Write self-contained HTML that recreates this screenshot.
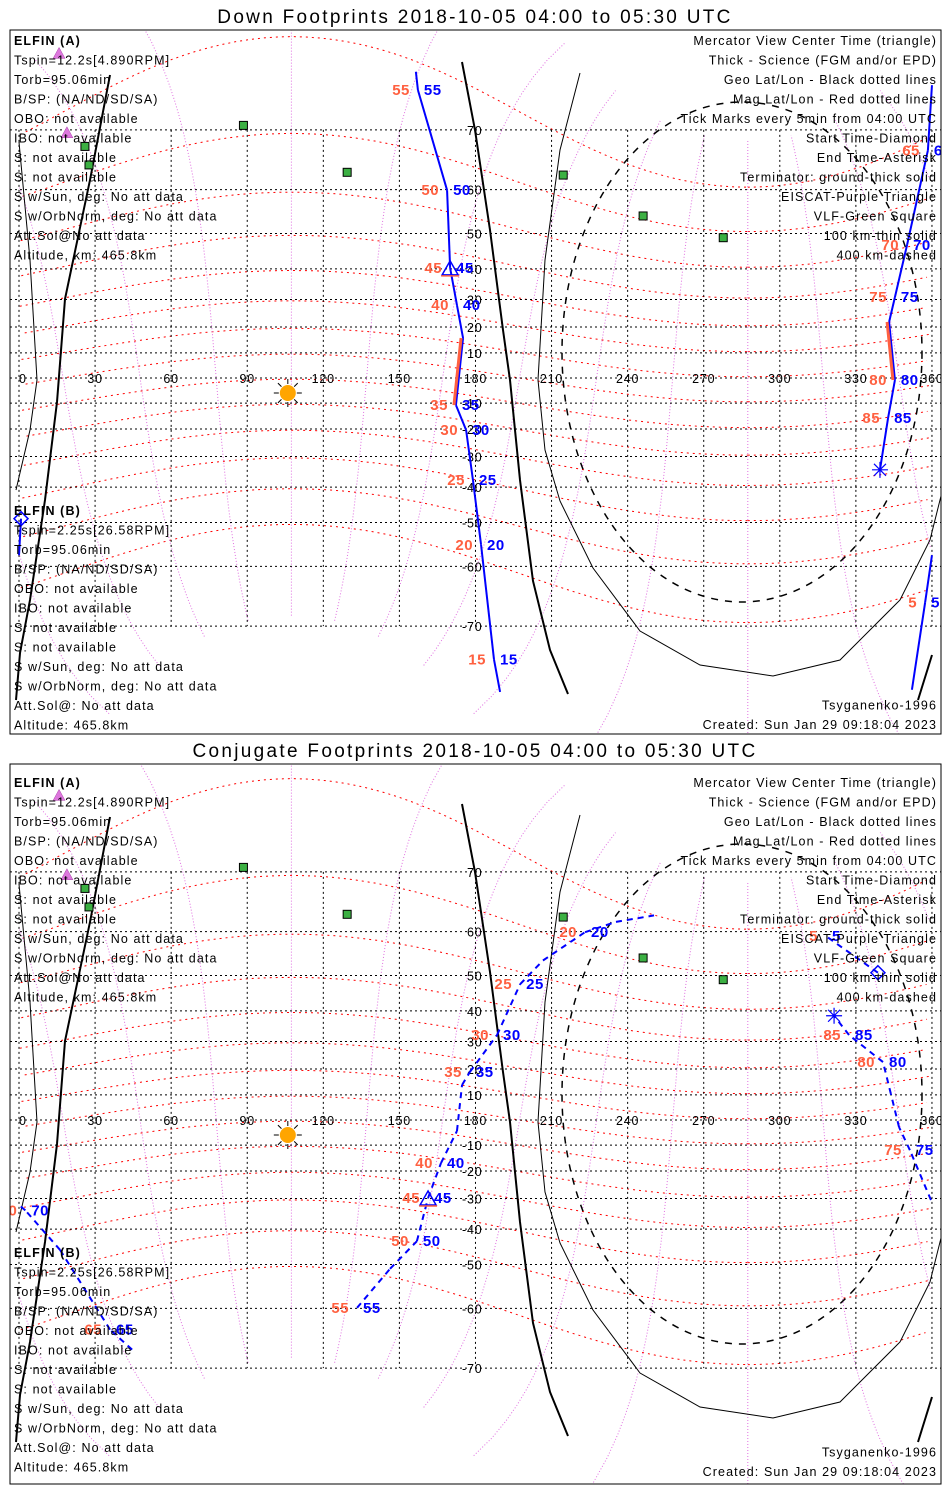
<!DOCTYPE html>
<html><head><meta charset="utf-8"><title>ELFIN Footprints</title>
<style>
html,body{margin:0;padding:0;background:#fff;overflow:hidden;width:950px;height:1500px;}
svg{display:block;font-family:"Liberation Sans",sans-serif;}
.info{font-size:12.5px;fill:#000;letter-spacing:1.1px;}
.title{font-size:19px;fill:#000;letter-spacing:2.3px;}
.lbl{font-size:15px;font-weight:bold;letter-spacing:0.5px;}
.tick{font-size:12.5px;fill:#000;letter-spacing:0.8px;}
</style></head>
<body>
<svg id="chart" width="950" height="1500" viewBox="0 0 950 1500">
<defs>
<clipPath id="clip1"><rect x="10" y="30" width="931" height="704"/></clipPath>
<clipPath id="clip2"><rect x="10" y="764" width="931" height="720"/></clipPath>
</defs>
<rect x="0" y="0" width="950" height="1500" fill="#fff"/>
<text class="title" x="475" y="23" text-anchor="middle">Down Footprints 2018-10-05 04:00 to 05:30 UTC</text>
<text class="title" x="475" y="757" text-anchor="middle">Conjugate Footprints 2018-10-05 04:00 to 05:30 UTC</text>
<g id="p1" clip-path="url(#clip1)"></g>
<g id="p2" clip-path="url(#clip2)"></g>
<rect x="10" y="30" width="931" height="704" fill="none" stroke="#000" stroke-width="1"/>
<rect x="10" y="764" width="931" height="720" fill="none" stroke="#000" stroke-width="1"/>
</svg>
<script>
// ---- data ----
const gridLats=[-70,-60,-50,-40,-30,-20,-10,0,10,20,30,40,50,60,70];
const gridLons=[0,30,60,90,120,150,180,210,240,270,300,330,360];
const magLats=[-60,-50,-40,-30,-20,-10,0,10,20,30,40,50,60,70];
const magLons=[0,30,60,90,120,150,180,210,240,270,300,330];
// Down footprints (segments)
const dA_t=[57,55,50,45,40,38,35,30,25,20,15,13];
const dA_lon=[156.5,157.3,168.8,170.0,172.7,175.1,172.3,176.3,179.0,182.2,187.3,189.7];
const dA_lat=[76.6,74.8,59.9,40.3,28.0,15.8,-10.8,-20.4,-37.8,-55.4,-74.1,-77.3];
const dA_sci=[0,0,0,0,0,1,0,0,0,0,0];
const dB_t=[63,65,70,75,76,80,85,88];
const dB_lon=[360,358.4,350.2,345.4,343.1,345.4,342.7,339.5];
const dB_lat=[75.3,67,47,30.8,21.9,-0.8,-15.8,-34.5];
const dB_sci=[0,0,0,0,1,0,0];
const dC_t=[0,1];
const dC_lon=[0.8,0];
const dC_lat=[-49,-57.7];
const dD_t=[1,5,8];
const dD_lon=[360,357.3,352.1];
const dD_lat=[-57.7,-66.5,-77.1];
// Conjugate footprints
const cA_t=[55,52,50,45,40,38,36,35,30,25,23,20,18,16];
const cA_lon=[133.3,146.3,156.9,161.3,166.4,172.7,174.7,177.8,188.5,197.6,206.6,223.2,235.4,250.4];
const cA_lat=[-59.9,-51.1,-43.6,-29.8,-17,-4.4,13.9,18.9,32.2,47.7,53.7,59.9,61.9,63.1];
const cB_t=[0,5];
const cB_lon=[338.7,318.2];
const cB_lat=[50.7,59.1];
const cC_t=[72,75,77,78,80,85,88];
const cC_lon=[359.6,351.3,347,343.8,340.7,327.3,321.4];
const cC_lat=[-30.5,-12,-2.8,10.4,22.6,32.2,38.5];
const cD_t=[64,65,68,70,71];
const cD_lon=[44.6,35.9,16.2,2.5,0];
const cD_lat=[-67.3,-64,-46.1,-34,-32.2];
// stations
const vlfLon=[88.5,26.0,27.6,129.4,214.6,246.1,277.7];
const vlfLat=[70.6,67.6,64.6,63.3,62.8,54.3,48.9];
const eiscatLon=[18.9,15.8];
const eiscatLat=[69.6,78.2];
const sunLon=[106];
const sunLat=[-6];
// terminator curves (panel-relative pixel shapes)
const termThickA=[[462,62],[475,130],[490,230],[503,330],[510,380],[520,480],[533,581],[550,650],[568,694]];
const termThickB=[[110,75],[90,180],[65,299],[57,402],[45,500],[30,600],[20,653],[16,700]];
const termThickC=[[932,655],[918,700]];
const termThin=[[580,73],[560,150],[545,260],[538,380],[545,450],[560,501],[593,568],[640,631],[700,665],[773,676],[840,660],[900,600],[930,540],[945,480]];
const termThinL=[[19,142],[30,260],[37,380],[30,430],[16,490]];

const SX=2.536, X0=19, MS=143;
const NS='http://www.w3.org/2000/svg';
function px(lon){return X0+lon*SX;}
function py(lat,eq){const r=lat*Math.PI/180;return eq-MS*Math.log(Math.tan(Math.PI/4+r/2));}
function mk(tag,attrs,parent){const e=document.createElementNS(NS,tag);for(const k in attrs)e.setAttribute(k,attrs[k]);parent.appendChild(e);return e;}
function mag2geo(mlat,mlon){
  const th=9.5*Math.PI/180, lp=-72.6*Math.PI/180;
  const a=mlat*Math.PI/180,b=mlon*Math.PI/180;
  let x=Math.cos(a)*Math.cos(b),y=Math.cos(a)*Math.sin(b),z=Math.sin(a);
  const x1=x*Math.cos(th)+z*Math.sin(th), z1=-x*Math.sin(th)+z*Math.cos(th);
  const x2=x1*Math.cos(lp)-y*Math.sin(lp), y2=x1*Math.sin(lp)+y*Math.cos(lp);
  let lon=Math.atan2(y2,x2)*180/Math.PI; if(lon<0)lon+=360;
  return [Math.asin(z1)*180/Math.PI,lon];
}
function pathFromGeo(pts,eq){
  let d='',prev=null;
  pts.forEach(p=>{const x=px(p[1]),y=py(p[0],eq);
    if(prev===null||Math.abs(p[1]-prev)>180)d+='M'+x.toFixed(1)+' '+y.toFixed(1);
    else d+='L'+x.toFixed(1)+' '+y.toFixed(1);prev=p[1];});
  return d;
}
function poly(pts,dy){return pts.map((p,i)=>(i?'L':'M')+p[0]+' '+(p[1]+dy)).join('');}

function drawPanel(g,eq,dy,segs,isConj){
  magLats.forEach(ml=>{const pts=[];for(let l=0;l<=360;l+=3)pts.push(mag2geo(ml,l));
    const e=mk('path',{d:pathFromGeo(pts,eq),fill:'none',stroke:'#ff0000','stroke-width':1,'stroke-dasharray':'2,4'},g);
    
    });
  magLons.forEach(ml=>{const pts=[];for(let a=-78;a<=78;a+=2)pts.push(mag2geo(a,ml));
    const e=mk('path',{d:pathFromGeo(pts,eq),fill:'none',stroke:'#e070e0','stroke-width':1,'stroke-dasharray':'1,2'},g);
    
    });
  gridLats.forEach(la=>{const y=py(la,eq);
    const e=mk('line',{x1:10,x2:941,y1:y,y2:y,stroke:'#000','stroke-width':1,'stroke-dasharray':'2,3'},g);
    
    
    if(la!==0){const t=mk('text',{x:px(180)+7,y:y+5,'text-anchor':'end',class:'tick'},g);t.textContent=String(la);
      
      }});
  gridLons.forEach(lo=>{const x=px(lo);
    const e=mk('line',{x1:x,x2:x,y1:py(70,eq),y2:py(-70,eq),stroke:'#000','stroke-width':1,'stroke-dasharray':'2,3'},g);
    
    
    const t=mk('text',{x:x,y:eq+5,'text-anchor':lo===0?'start':'middle',class:'tick'},g);t.textContent=String(lo);
    
    });
  [[termThickA,2],[termThickB,2],[termThickC,2],[termThin,1],[termThinL,1]].forEach(tp=>{
    const e=mk('path',{d:poly(tp[0],dy),fill:'none',stroke:'#000','stroke-width':tp[1]},g);
    
    });
  const el=mk('ellipse',{cx:742,cy:352+dy,rx:180,ry:250,fill:'none',stroke:'#000','stroke-width':1.5,'stroke-dasharray':'7,7'},g);
  
  
  vlfLon.forEach((lo,i)=>{const e=mk('rect',{x:px(lo)-4,y:py(vlfLat[i],eq)-4,width:8,height:8,fill:'#3cb043',stroke:'#000','stroke-width':1},g);
    
    });
  eiscatLon.forEach((lo,i)=>{const x=px(lo),y=py(eiscatLat[i],eq);
    const e=mk('path',{d:`M${x-6} ${y+5}L${x} ${y-6}L${x+6} ${y+5}Z`,fill:'#dd77dd',stroke:'#aa44aa','stroke-width':0.5},g);
    
    });
  sunLon.forEach((lo,i)=>{const x=px(lo),y=py(sunLat[i],eq);
    for(let k=0;k<8;k++){const a=k*Math.PI/4;mk('line',{x1:x+Math.cos(a)*9,y1:y+Math.sin(a)*9,x2:x+Math.cos(a)*14,y2:y+Math.sin(a)*14,stroke:'#000','stroke-width':1},g);}
    const c=mk('circle',{cx:x,cy:y,r:8,fill:'#ffa500'},g);
    
    });
  segs.forEach(s=>{
    const pts=s.lon.map((lo,i)=>[px(lo),py(s.lat[i],eq)]);
    for(let i=0;i<pts.length-1;i++){
      const sci=s.sci&&s.sci[i];
      const e=mk('line',{x1:pts[i][0],y1:pts[i][1],x2:pts[i+1][0],y2:pts[i+1][1],stroke:'#0000ff','stroke-width':2,'stroke-dasharray':isConj?'6,5':'none'},g);
      
      
      if(sci){const r=mk('line',{x1:pts[i][0]-2,y1:pts[i][1],x2:pts[i+1][0]-2,y2:pts[i+1][1],stroke:'#ff6040','stroke-width':3},g);
        
        }
    }
    s.t.forEach((t,i)=>{
      const [x,y]=pts[i];
      if(t%5===0&&t>0){
        const b=mk('text',{x:x+6,y:y+5,class:'lbl',fill:'#0000ff'},g);b.textContent=String(t);
        
        
        const r=mk('text',{x:x-8,y:y+5,class:'lbl',fill:'#ff6040','text-anchor':'end'},g);r.textContent=String(t);
        
        
      }
      if(t===45){const e=mk('path',{d:`M${x-8} ${y+7}L${x} ${y-7}L${x+8} ${y+7}Z`,fill:'none',stroke:'#0000ff','stroke-width':1.5},g);
        mk('line',{x1:x-9,y1:y+8,x2:x+9,y2:y+8,stroke:'#ff6040','stroke-width':1.5},g);
        
        }
      if(t===0){const e=mk('path',{d:`M${x} ${y-7}L${x+7} ${y}L${x} ${y+7}L${x-7} ${y}Z`,fill:'none',stroke:'#0000ff','stroke-width':1.5},g);
        
        }
      if(t===88){const e=mk('path',{d:`M${x-8} ${y}H${x+8}M${x} ${y-8}V${y+8}M${x-6} ${y-6}L${x+6} ${y+6}M${x-6} ${y+6}L${x+6} ${y-6}`,stroke:'#0000ff','stroke-width':1.2},g);
        
        }
    });
  });
}
const svg=document.getElementById('chart');
drawPanel(document.getElementById('p1'),378,0,[
  {t:dA_t,lon:dA_lon,lat:dA_lat,sci:dA_sci},{t:dB_t,lon:dB_lon,lat:dB_lat,sci:dB_sci},
  {t:dC_t,lon:dC_lon,lat:dC_lat},{t:dD_t,lon:dD_lon,lat:dD_lat}],false);
drawPanel(document.getElementById('p2'),1120,742,[
  {t:cA_t,lon:cA_lon,lat:cA_lat},{t:cB_t,lon:cB_lon,lat:cB_lat},
  {t:cC_t,lon:cC_lon,lat:cC_lat},{t:cD_t,lon:cD_lon,lat:cD_lat}],true);

const leftA=['Tspin=12.2s[4.890RPM]','Torb=95.06min','B/SP: (NA/ND/SD/SA)','OBO: not available','IBO: not available','S: not available','S: not available','S w/Sun, deg: No att data','S w/OrbNorm, deg: No att data','Att.Sol@No att data','Altitude, km: 465.8km'];
const leftB=['Tspin=2.25s[26.58RPM]','Torb=95.06min','B/SP: (NA/ND/SD/SA)','OBO: not available','IBO: not available','S: not available','S: not available','S w/Sun, deg: No att data','S w/OrbNorm, deg: No att data','Att.Sol@: No att data','Altitude: 465.8km'];
const rightT=['Mercator View Center Time (triangle)','Thick - Science (FGM and/or EPD)','Geo Lat/Lon - Black dotted lines','Mag Lat/Lon - Red dotted lines','Tick Marks every 5min from 04:00 UTC','Start Time-Diamond','End Time-Asterisk','Terminator: ground-thick solid','EISCAT-Purple Triangle','VLF-Green Square','100 km-thin solid','400 km-dashed'];
const rightC=['#000','#000','#000','#ff0000','#000','#000','#000','#000','#ee82ee','#3cb043','#000','#000'];
function txt(x,y,s,attrs,name){const t=mk('text',Object.assign({x:x,y:y,class:'info'},attrs||{}),svg);t.textContent=s;
  
  return t;}
[0,742].forEach((o,pi)=>{
  const ya=o+45;
  txt(14,ya,'ELFIN (A)',{fill:'#0000ff','font-weight':'bold'},'elfin-a-header');
  leftA.forEach((s,i)=>txt(14,ya+19.5*(i+1),s,{},'elfin-a-info'));
  const yb=o+515;
  txt(14,yb,'ELFIN (B)',{fill:'#ff6040','font-weight':'bold'},'elfin-b-header');
  leftB.forEach((s,i)=>txt(14,yb+19.5*(i+1),s,{},'elfin-b-info'));
  rightT.forEach((s,i)=>txt(937,ya+19.5*i,s,{'text-anchor':'end',fill:rightC[i]},'legend-entry'));
  const bot=pi?1476:729;
  txt(937,bot-19.5,'Tsyganenko-1996',{'text-anchor':'end'},'model-label');
  txt(937,bot,'Created: Sun Jan 29 09:18:04 2023',{'text-anchor':'end'},'created-label');
});
</script>
</body></html>
